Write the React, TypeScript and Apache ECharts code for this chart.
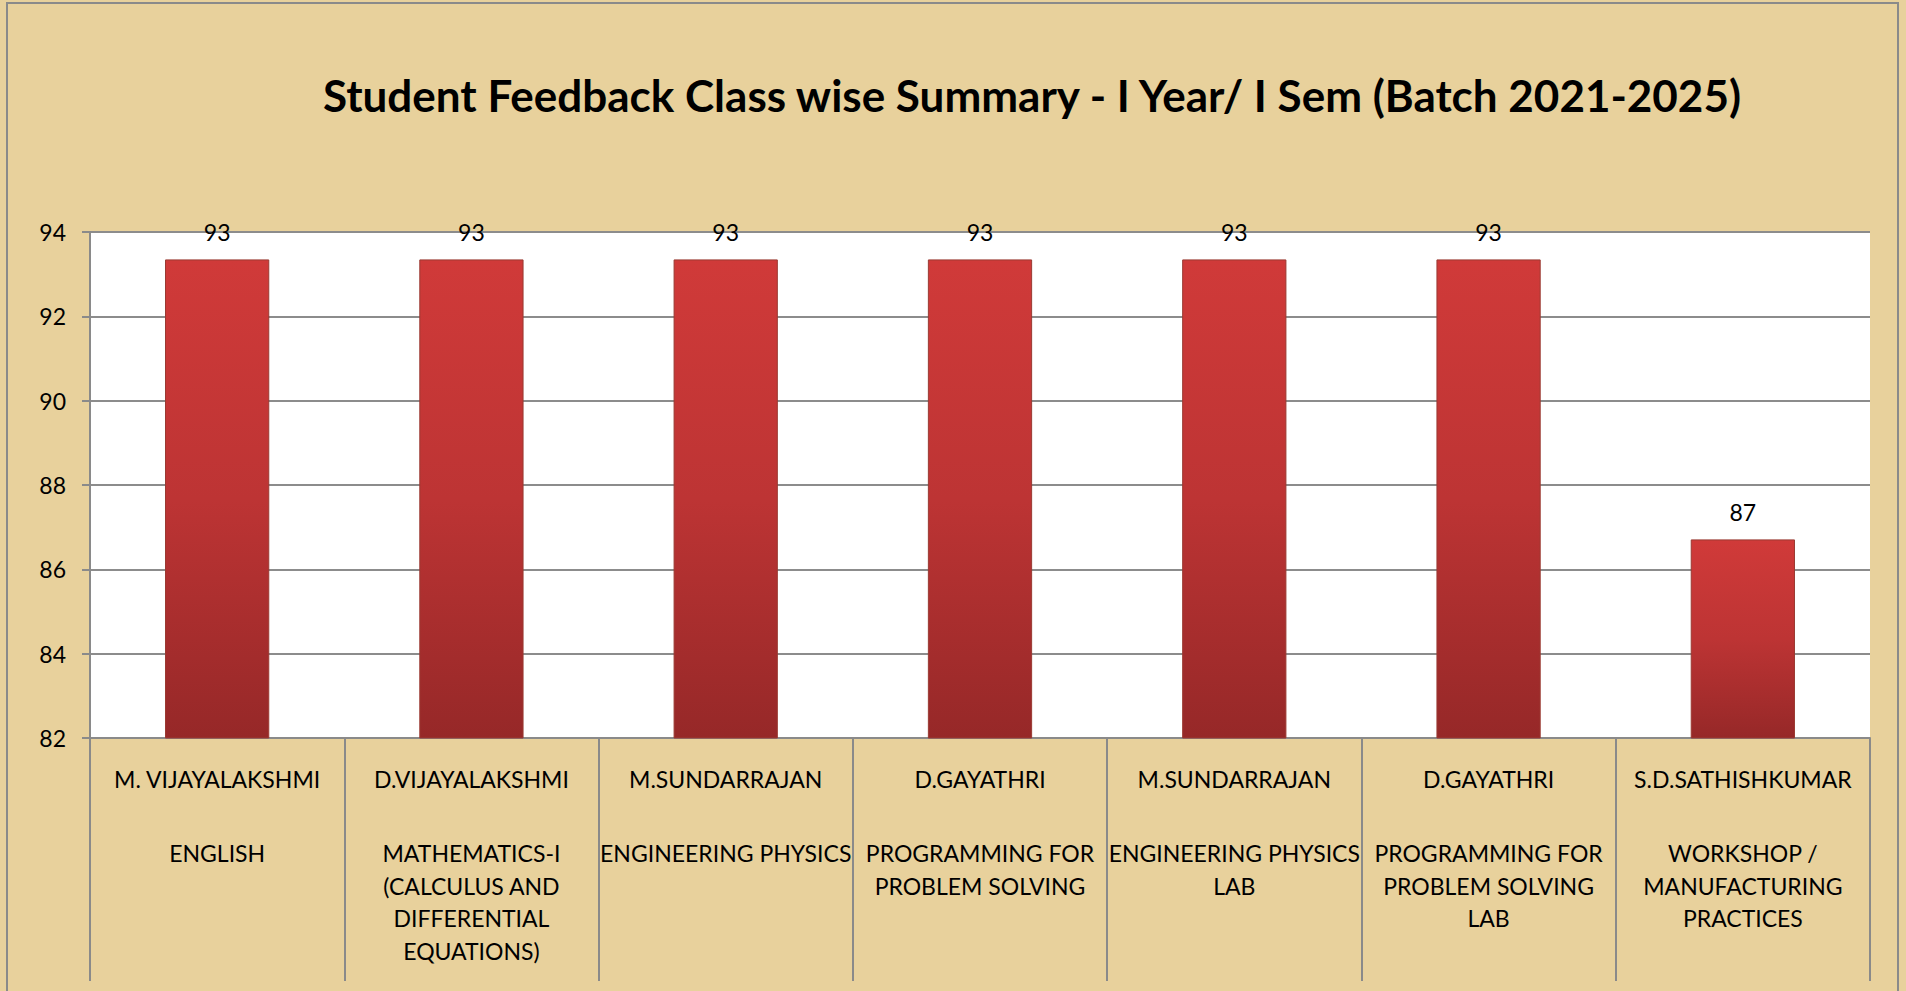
import React, { useEffect, useRef } from "react";
import * as echarts from "echarts";

const teachers = [
  "M. VIJAYALAKSHMI",
  "D.VIJAYALAKSHMI",
  "M.SUNDARRAJAN",
  "D.GAYATHRI",
  "M.SUNDARRAJAN",
  "D.GAYATHRI",
  "S.D.SATHISHKUMAR",
];

const subjects = [
  "ENGLISH",
  "MATHEMATICS-I\n(CALCULUS AND\nDIFFERENTIAL\nEQUATIONS)",
  "ENGINEERING PHYSICS",
  "PROGRAMMING FOR\nPROBLEM SOLVING",
  "ENGINEERING PHYSICS\nLAB",
  "PROGRAMMING FOR\nPROBLEM SOLVING\nLAB",
  "WORKSHOP /\nMANUFACTURING\nPRACTICES",
];

const scores = [93.35, 93.35, 93.35, 93.35, 93.35, 93.35, 86.71];

const yTicks = { min: 82, max: 94, interval: 2 };

const titleText = "Student Feedback Class wise Summary - I Year/ I Sem (Batch 2021-2025)";

const FONT = "Lato, 'Open Sans', sans-serif";

export default function App() {
  const ref = useRef<HTMLDivElement>(null);

  useEffect(() => {
    if (!ref.current) return;
    const chart = echarts.init(ref.current, undefined, { renderer: "svg" });
    const categories = teachers.map((t, i) => `${t}||${subjects[i]}`);
    chart.setOption({
      animation: false,
      backgroundColor: "#e8d19c",
      textStyle: { fontFamily: FONT },
      graphic: [
        {
          type: "rect",
          shape: { x: 7, y: 3, width: 1891, height: 1000 },
          style: { fill: "none", stroke: "#8a8a8a", lineWidth: 2 },
          silent: true,
        },
        {
          type: "text",
          x: 1032,
          y: 95,
          style: {
            text: titleText,
            fontFamily: FONT,
            fontWeight: "bold",
            fontSize: 44,
            fill: "#000",
            textAlign: "center",
            textVerticalAlign: "middle",
          },
        },
      ],
      grid: {
        left: 90,
        right: 36,
        top: 232,
        bottom: 253,
        show: true,
        backgroundColor: "#ffffff",
        borderWidth: 0,
      },
      xAxis: {
        type: "category",
        data: categories,
        boundaryGap: true,
        axisLine: { show: true, lineStyle: { color: "#8a8a8a", width: 2 } },
        axisTick: {
          show: true,
          interval: 0,
          length: 243,
          lineStyle: { color: "#8a8a8a", width: 2 },
        },
        axisLabel: {
          interval: 0,
          margin: 25,
          color: "#000",
          formatter: (v: string) => {
            const [n, s] = v.split("||");
            return `{n|${n}}\n{g| }\n{s|${s}}`;
          },
          rich: {
            n: { fontSize: 23, lineHeight: 32, fontFamily: FONT, color: "#000", align: "center" },
            g: { fontSize: 10, lineHeight: 42 },
            s: { fontSize: 23, lineHeight: 32.5, fontFamily: FONT, color: "#000", align: "center" },
          },
        },
      },
      yAxis: {
        type: "value",
        min: yTicks.min,
        max: yTicks.max,
        interval: yTicks.interval,
        axisLine: { show: true, lineStyle: { color: "#8a8a8a", width: 2 } },
        axisTick: { show: true, length: 8, lineStyle: { color: "#8a8a8a", width: 2 } },
        axisLabel: { fontSize: 23, color: "#000", margin: 24, fontFamily: FONT },
        splitLine: { show: true, lineStyle: { color: "#8c8c8c", width: 2 } },
      },
      series: [
        {
          type: "bar",
          data: scores,
          barWidth: "41%",
          itemStyle: {
            color: new echarts.graphic.LinearGradient(0, 0, 0, 1, [
              { offset: 0, color: "#d03a39" },
              { offset: 0.5, color: "#bd3434" },
              { offset: 1, color: "#962828" },
            ]),
            borderColor: "#9a3a32",
            borderWidth: 1,
          },
          label: {
            show: true,
            position: "top",
            distance: 16,
            fontSize: 23,
            color: "#000",
            fontFamily: FONT,
            formatter: (p: any) => String(Math.round(p.value)),
          },
        },
      ],
    });
    return () => chart.dispose();
  }, []);

  return (
    <div
      ref={ref}
      style={{ position: "fixed", left: 0, top: 0, width: 1906, height: 991 }}
    />
  );
}
